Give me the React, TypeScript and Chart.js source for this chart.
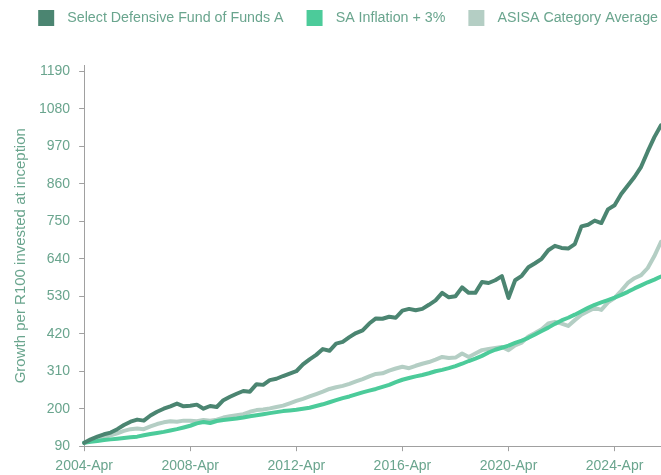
import React, { useEffect, useRef } from 'react';
import { Chart, registerables } from 'chart.js';

Chart.register(...registerables);

// Quarterly categories (month labels)
const categories = [
  '2004-Apr', '2004-Jul', '2004-Oct',
  '2005-Jan', '2005-Apr', '2005-Jul', '2005-Oct',
  '2006-Jan', '2006-Apr', '2006-Jul', '2006-Oct',
  '2007-Jan', '2007-Apr', '2007-Jul', '2007-Oct',
  '2008-Jan', '2008-Apr', '2008-Jul', '2008-Oct',
  '2009-Jan', '2009-Apr', '2009-Jul', '2009-Oct',
  '2010-Jan', '2010-Apr', '2010-Jul', '2010-Oct',
  '2011-Jan', '2011-Apr', '2011-Jul', '2011-Oct',
  '2012-Jan', '2012-Apr', '2012-Jul', '2012-Oct',
  '2013-Jan', '2013-Apr', '2013-Jul', '2013-Oct',
  '2014-Jan', '2014-Apr', '2014-Jul', '2014-Oct',
  '2015-Jan', '2015-Apr', '2015-Jul', '2015-Oct',
  '2016-Jan', '2016-Apr', '2016-Jul', '2016-Oct',
  '2017-Jan', '2017-Apr', '2017-Jul', '2017-Oct',
  '2018-Jan', '2018-Apr', '2018-Jul', '2018-Oct',
  '2019-Jan', '2019-Apr', '2019-Jul', '2019-Oct',
  '2020-Jan', '2020-Apr', '2020-Jul', '2020-Oct',
  '2021-Jan', '2021-Apr', '2021-Jul', '2021-Oct',
  '2022-Jan', '2022-Apr', '2022-Jul', '2022-Oct',
  '2023-Jan', '2023-Apr', '2023-Jul', '2023-Oct',
  '2024-Jan', '2024-Apr', '2024-Jul', '2024-Oct',
  '2025-Jan', '2025-Apr', '2025-Jul', '2025-Oct',
  '2026-Jan',
];

const fundValues = [
  100, 110, 118,
  125, 130, 140, 152,
  162, 168, 165, 180,
  191, 200, 207, 215,
  207, 209, 212, 200,
  208, 205, 225, 235,
  244, 252, 250, 272,
  270, 284, 288, 296,
  303, 310, 330, 345,
  358, 375, 370, 391,
  396, 410, 422, 430,
  450, 465, 464, 470,
  467, 488, 493, 489,
  493, 505, 518, 540,
  527, 530, 556, 540,
  540, 572, 569, 577,
  589, 525, 577, 590,
  615, 627, 640, 665,
  678, 672, 670, 683,
  735, 740, 752, 745,
  785, 797, 830, 855,
  880, 910, 955, 997,
  1032,
];

const inflationValues = [
  100, 103, 105,
  108, 110, 112, 114,
  116, 118, 122, 126,
  129, 132, 136, 140,
  145, 150, 157, 161,
  158, 164, 167, 169,
  171, 174, 178, 181,
  184, 187, 190, 193,
  195, 197, 200, 203,
  208, 213, 219, 225,
  231, 236, 242, 248,
  253, 258, 264, 270,
  278, 285, 290, 295,
  299, 304, 310, 314,
  319, 325, 332, 340,
  347, 355, 365, 373,
  379, 385, 393, 400,
  408, 418, 428, 438,
  449, 459, 467, 476,
  486, 496, 505, 512,
  519, 526, 534, 543,
  553, 562, 571, 579,
  588,
];

const asisaValues = [
  100, 106, 113,
  117, 122, 128, 135,
  140, 142, 140, 148,
  155, 160, 163, 162,
  165, 165, 163, 167,
  165, 168, 174, 178,
  181, 184, 191, 196,
  198, 201, 205, 209,
  216, 223, 229, 236,
  243, 250, 258, 263,
  267, 273, 280, 287,
  295, 302, 304, 312,
  318, 323, 319, 326,
  332, 337, 344, 352,
  349, 350, 362, 352,
  362, 372, 375, 378,
  381, 372, 386, 394,
  412, 422, 433, 450,
  455, 450, 443, 460,
  476, 486, 496, 490,
  512, 525, 546, 569,
  583, 592, 613, 648,
  690,
];

const seriesNames = ['Select Defensive Fund of Funds A', 'SA Inflation + 3%', 'ASISA Category Average'];
const seriesColors = ['#4b8571', '#4ccb9a', '#b4cec4'];
const xTickLabels = ['2004-Apr', '2008-Apr', '2012-Apr', '2016-Apr', '2020-Apr', '2024-Apr'];
const yTickValues = [90, 200, 310, 420, 530, 640, 750, 860, 970, 1080, 1190];
const yAxisTitle = 'Growth per R100 invested at inception';

const TEXT_COLOR = '#6aa58e';
const AXIS_COLOR = '#a0a0a0';
const FONT_FAMILY = '"Liberation Sans", Arial, sans-serif';

function legendIcon(color: string): HTMLCanvasElement {
  const c = document.createElement('canvas');
  c.width = 35;
  c.height = 16;
  const g = c.getContext('2d');
  if (g) {
    g.fillStyle = color;
    g.fillRect(13, 0, 16, 16);
  }
  return c;
}

export default function App() {
  const canvasRef = useRef<HTMLCanvasElement | null>(null);

  useEffect(() => {
    const canvas = canvasRef.current;
    if (!canvas) return;
    const icons = seriesColors.map((c) => legendIcon(c));
    const seriesData = [fundValues, inflationValues, asisaValues];

    const legendSpacer = {
      id: 'legendSpacer',
      beforeInit(chart: any) {
        const legend = chart.legend;
        if (!legend) return;
        const origFit = legend.fit;
        legend.fit = function () {
          origFit.call(this);
          this.height += 30;
        };
      },
    };

    const chart = new Chart(canvas, {
      type: 'line',
      data: {
        labels: categories,
        datasets: seriesData.map((d, i) => ({
          label: seriesNames[i],
          data: d,
          borderColor: seriesColors[i],
          backgroundColor: seriesColors[i],
          borderWidth: 4,
          pointRadius: 0,
          pointHoverRadius: 0,
          tension: 0,
          fill: false,
          borderJoinStyle: 'round' as const,
          borderCapStyle: 'round' as const,
        })),
      },
      options: {
        responsive: false,
        animation: false,
        devicePixelRatio: 1,
        layout: { padding: { top: 1, right: 0, bottom: 0, left: 0 } },
        plugins: {
          tooltip: { enabled: false },
          legend: {
            display: true,
            position: 'top',
            align: 'end',
            labels: {
              usePointStyle: true,
              pointStyleWidth: 35,
              padding: 10,
              color: TEXT_COLOR,
              font: { family: FONT_FAMILY, size: 14.25 },
              generateLabels: (ch: any) =>
                (Chart.defaults.plugins.legend.labels.generateLabels as any)(ch).map((item: any, i: number) => ({
                  ...item,
                  pointStyle: icons[i],
                  lineWidth: 0,
                })),
            },
          },
        },
        scales: {
          x: {
            type: 'category',
            offset: false,
            border: { display: true, color: AXIS_COLOR, width: 1 },
            grid: {
              drawOnChartArea: false,
              drawTicks: true,
              tickLength: 5,
              tickColor: (ctx: any) =>
                xTickLabels.includes(categories[ctx.index]) ? AXIS_COLOR : 'rgba(0,0,0,0)',
            },
            ticks: {
              autoSkip: false,
              maxRotation: 0,
              minRotation: 0,
              padding: 7,
              color: TEXT_COLOR,
              font: { family: FONT_FAMILY, size: 14 },
              callback: (_v: any, index: number) =>
                xTickLabels.includes(categories[index]) ? categories[index] : '',
            },
          },
          y: {
            type: 'linear',
            min: 90,
            max: 1208,
            border: { display: true, color: AXIS_COLOR, width: 1 },
            grid: { drawOnChartArea: false, drawTicks: true, tickLength: 5, tickColor: AXIS_COLOR },
            afterBuildTicks: (scale: any) => {
              scale.ticks = yTickValues.map((v) => ({ value: v }));
            },
            ticks: {
              padding: 9,
              color: TEXT_COLOR,
              font: { family: FONT_FAMILY, size: 14 },
              callback: (v: any) => String(v),
            },
            title: {
              display: true,
              text: yAxisTitle,
              color: TEXT_COLOR,
              font: { family: FONT_FAMILY, size: 15 },
              padding: { top: 12, bottom: 0 },
            },
          },
        },
      },
      plugins: [legendSpacer],
    } as any);

    return () => {
      chart.destroy();
    };
  }, []);

  return (
    <div style={{ position: 'fixed', left: 0, top: 0, width: 661, height: 475, overflow: 'hidden', background: '#fff' }}>
      <canvas ref={canvasRef} width={668} height={482} style={{ display: 'block' }} />
    </div>
  );
}
